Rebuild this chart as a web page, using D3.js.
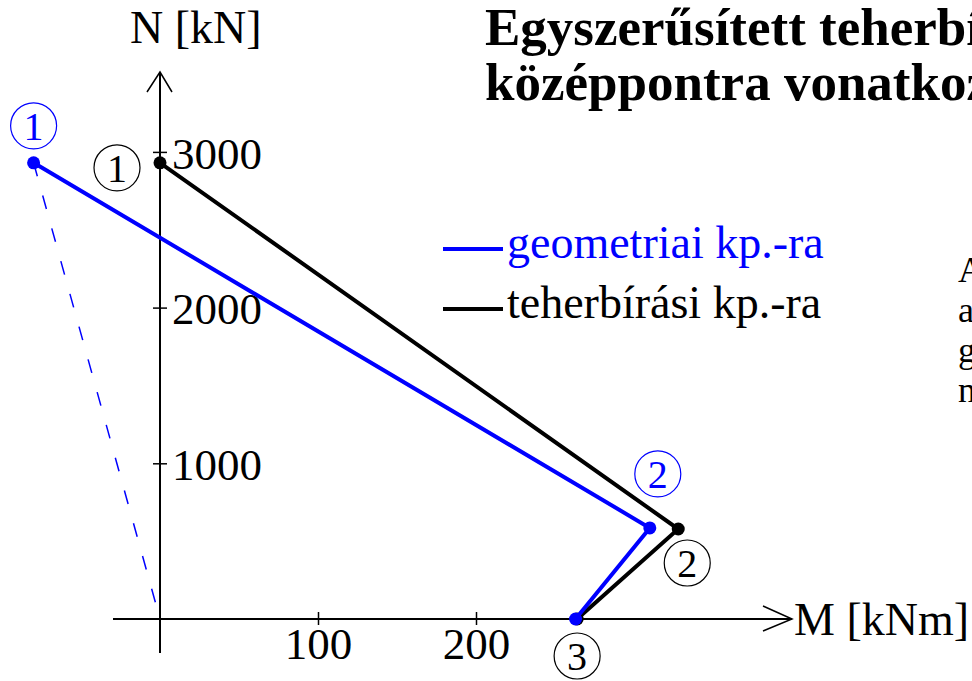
<!DOCTYPE html>
<html>
<head>
<meta charset="utf-8">
<script src="https://cdn.jsdelivr.net/npm/d3@7"></script>
<style>
  html, body { margin: 0; padding: 0; background: #fff; overflow: hidden; }
  svg { display: block; }
  text { font-family: "Liberation Serif", "Times New Roman", serif; }
</style>
</head>
<body>
<svg id="chart" width="972" height="681"></svg>
<script>
// Interaction diagram points (M [kNm], N [kN]) for the two reference centres
const pointIds = ["1", "2", "3"];
const geoM = [-80, 310, 263];   // geometric centre
const geoN = [2930, 585, 0];
const tehM = [0, 328, 264];     // plastic (load-bearing) centre
const tehN = [2930, 578, 0];

const nTicks = [1000, 2000, 3000];
const mTicks = [100, 200];

const legendLabels = ["geometriai kp.-ra", "teherbírási kp.-ra"];
const colors = ["#0000ff", "#000000"];

const titleLines = ["Egyszerűsített teherbírási", "középpontra vonatkozó"];
const sideText = ["A", "a", "g", "n"];

const svg = d3.select("#chart");

// scales: origin at (160, 619)
const x = d3.scaleLinear().domain([0, 100]).range([160, 318]);
const y = d3.scaleLinear().domain([0, 1000]).range([619, 463.3]);

// ----- axes -----
const axisG = svg.append("g").attr("stroke", "#000").attr("stroke-width", 2).attr("fill", "none");
axisG.append("line").attr("x1", 113).attr("x2", 792).attr("y1", y(0)).attr("y2", y(0));
axisG.append("line").attr("x1", x(0)).attr("x2", x(0)).attr("y1", 653).attr("y2", 72);
// arrow heads
axisG.append("path").attr("stroke-width", 1.5)
  .attr("d", `M763,${y(0) - 13}L792,${y(0)}L763,${y(0) + 12}`);
axisG.append("path").attr("stroke-width", 1.5)
  .attr("d", `M147,92L${x(0)},72L172,92`);

// N axis ticks (cross the axis)
const yAxis = d3.axisRight(y).tickValues(nTicks).tickSize(7).tickFormat(d3.format("d"));
const gy = svg.append("g").attr("transform", `translate(${x(0)},0)`).call(yAxis);
gy.select(".domain").remove();
gy.selectAll(".tick line").attr("x1", -7).attr("x2", 7).attr("stroke", "#000").attr("stroke-width", 1.5);
gy.selectAll(".tick text").attr("x", 12).attr("dy", "0.36em")
  .attr("font-size", 45).attr("font-family", "Liberation Serif").attr("fill", "#000");

// M axis ticks
const xAxis = d3.axisBottom(x).tickValues(mTicks).tickSize(7).tickFormat(d3.format("d"));
const gx = svg.append("g").attr("transform", `translate(0,${y(0)})`).call(xAxis);
gx.select(".domain").remove();
gx.selectAll(".tick line").attr("y1", -7).attr("y2", 6).attr("stroke", "#000").attr("stroke-width", 1.5);
gx.selectAll(".tick text").attr("y", 40).attr("dy", 0)
  .attr("font-size", 45).attr("font-family", "Liberation Serif").attr("fill", "#000");

// axis titles
svg.append("text").attr("x", 130).attr("y", 43).attr("font-size", 46).text("N [kN]");
svg.append("text").attr("x", 794).attr("y", 635).attr("font-size", 46).text("M [kNm]");

// ----- data -----
const geo = geoM.map((m, i) => ({ id: pointIds[i], m, n: geoN[i] }));
const teh = tehM.map((m, i) => ({ id: pointIds[i], m, n: tehN[i] }));

const line = d3.line().x(d => x(d.m)).y(d => y(d.n));

// dashed line from geometric point 1 to the origin
svg.append("path")
  .datum([geo[0], { m: 0, n: 0 }])
  .attr("d", line).attr("fill", "none")
  .attr("stroke", colors[0]).attr("stroke-width", 1.5)
  .attr("stroke-dasharray", "14,20");

[[teh, colors[1]], [geo, colors[0]]].forEach(([data, c]) => {
  svg.append("path").datum(data).attr("d", line)
    .attr("fill", "none").attr("stroke", c).attr("stroke-width", 4)
    .attr("stroke-linejoin", "miter");
  svg.selectAll(null).data(data).enter().append("circle")
    .attr("cx", d => x(d.m)).attr("cy", d => y(d.n)).attr("r", 6.5).attr("fill", c);
});

// circled point numbers: [series, index, dx, dy]
const badges = [
  [geo, 0, 0, -37, colors[0]],
  [teh, 0, -43, 5, colors[1]],
  [geo, 1, 8, -54, colors[0]],
  [teh, 1, 9, 34, colors[1]],
  [teh, 2, 0, 37, colors[1]]
];
badges.forEach(([data, i, dx, dy, c]) => {
  const cx = x(data[i].m) + dx, cy = y(data[i].n) + dy;
  svg.append("circle").attr("cx", cx).attr("cy", cy).attr("r", 23)
    .attr("fill", "none").attr("stroke", c).attr("stroke-width", 1.2);
  svg.append("text").attr("x", cx).attr("y", cy).attr("dy", "0.35em")
    .attr("text-anchor", "middle").attr("font-size", 40).attr("fill", c)
    .text(data[i].id);
});

// ----- legend -----
const legend = svg.append("g");
legendLabels.forEach((lab, i) => {
  const ly = 249 + i * 60;
  legend.append("line").attr("x1", 443).attr("x2", 503).attr("y1", ly).attr("y2", ly)
    .attr("stroke", colors[i]).attr("stroke-width", 4);
  legend.append("text").attr("x", 507).attr("y", ly + 9).attr("font-size", 46)
    .attr("fill", colors[i]).text(lab);
});

// ----- title -----
titleLines.forEach((t, i) => {
  svg.append("text").attr("x", 485).attr("y", 45 + i * 55)
    .attr("font-size", 53).attr("font-weight", "bold").text(t);
});

// text column on the right edge
sideText.forEach((t, i) => {
  svg.append("text").attr("x", 958).attr("y", 282 + i * 40)
    .attr("font-size", 36).text(t);
});
</script>
</body>
</html>
